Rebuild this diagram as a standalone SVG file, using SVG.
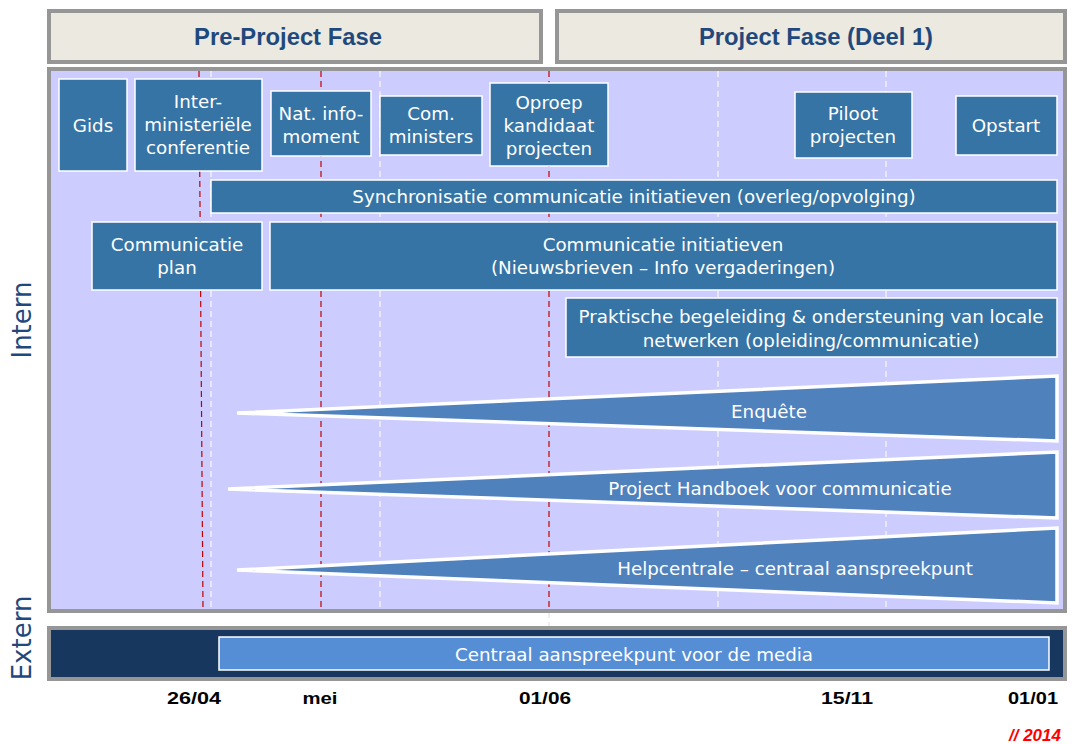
<svg xmlns="http://www.w3.org/2000/svg" width="1076" height="744" viewBox="0 0 1076 744">
<style>
.hdr{fill:#ECEAE0;stroke:#969696;stroke-width:4}
.hdrt{font-family:"Liberation Sans",Arial,sans-serif;font-weight:bold;font-size:23.8px;fill:#1F497D;text-anchor:middle}
.box{fill:#3574A5;stroke:#FFFFFF;stroke-width:1.5}
.t{font-family:"DejaVu Sans",Verdana,sans-serif;font-size:18.3px;fill:#FFFFFF;text-anchor:middle}
.wedge{fill:#4F81BD;stroke:#FFFFFF;stroke-width:3.5;stroke-linejoin:miter}
.red{stroke:#C00000;stroke-width:1.2;stroke-dasharray:6,4;fill:none}
.wht{stroke:#EFEFF7;stroke-width:1.5;stroke-dasharray:6,4;fill:none}
.date{font-family:"Liberation Sans",Arial,sans-serif;font-weight:bold;font-size:17px;fill:#000;text-anchor:middle}
.side{font-family:"DejaVu Sans",Verdana,sans-serif;font-size:26px;fill:#1F497D;text-anchor:middle}
</style>
<rect width="1076" height="744" fill="#FFFFFF"/>
<g id="header-pre"><rect class="hdr" x="49" y="11" width="492" height="51"/><text class="hdrt" x="288" y="45">Pre-Project Fase</text></g>
<g id="header-project"><rect class="hdr" x="557" y="11" width="508" height="51"/><text class="hdrt" x="816" y="45">Project Fase (Deel 1)</text></g>
<g id="panel-intern"><rect x="49" y="69" width="1016" height="542" fill="#CCCCFF" stroke="#969696" stroke-width="4"/></g>
<g id="gridlines">
<line class="wht" x1="211" y1="71" x2="211" y2="609"/>
<line class="wht" x1="380" y1="71" x2="380" y2="609"/>
<line class="wht" x1="718" y1="71" x2="718" y2="609"/>
<line class="wht" x1="886" y1="71" x2="886" y2="609"/>
<line class="red" x1="199" y1="71" x2="203" y2="609"/>
<line class="red" x1="321" y1="71" x2="321" y2="609"/>
<line class="red" x1="549" y1="71" x2="549" y2="609"/>
<line x1="549" y1="613" x2="549" y2="650" stroke="#DDDDDD" stroke-width="1" stroke-dasharray="5,4"/>
</g>
<text class="side" transform="translate(31,320) rotate(-90)">Intern</text>
<text class="side" transform="translate(31,638) rotate(-90)">Extern</text>
<g id="gids"><rect class="box" x="59" y="79" width="68" height="92"/><text class="t" x="93" y="132">Gids</text></g>
<g id="interministeriele"><rect class="box" x="135" y="79" width="127" height="92"/><text class="t" x="198" y="108">Inter-</text><text class="t" x="198" y="131">ministeriële</text><text class="t" x="198" y="154">conferentie</text></g>
<g id="nat-info"><rect class="box" x="271" y="91" width="100" height="65"/><text class="t" x="321" y="120">Nat. info-</text><text class="t" x="321" y="143">moment</text></g>
<g id="com-ministers"><rect class="box" x="380" y="96" width="102" height="59"/><text class="t" x="431" y="120">Com.</text><text class="t" x="431" y="143">ministers</text></g>
<g id="oproep"><rect class="box" x="490" y="83" width="118" height="83"/><text class="t" x="549" y="109">Oproep</text><text class="t" x="549" y="132">kandidaat</text><text class="t" x="549" y="155">projecten</text></g>
<g id="piloot"><rect class="box" x="795" y="92" width="117" height="66"/><text class="t" x="853" y="120">Piloot</text><text class="t" x="853" y="143">projecten</text></g>
<g id="opstart"><rect class="box" x="956" y="96" width="101" height="59"/><text class="t" x="1006" y="132">Opstart</text></g>
<g id="synchronisatie"><rect class="box" x="211" y="180" width="846" height="33"/><text class="t" x="634" y="203">Synchronisatie communicatie initiatieven (overleg/opvolging)</text></g>
<g id="communicatie-plan"><rect class="box" x="92" y="222" width="170" height="68"/><text class="t" x="177" y="251">Communicatie</text><text class="t" x="177" y="274">plan</text></g>
<g id="communicatie-initiatieven"><rect class="box" x="270" y="222" width="787" height="68"/><text class="t" x="663" y="251">Communicatie initiatieven</text><text class="t" x="663" y="274">(Nieuwsbrieven – Info vergaderingen)</text></g>
<g id="praktische"><rect class="box" x="566" y="298" width="491" height="59"/><text class="t" x="811" y="323">Praktische begeleiding &amp; ondersteuning van locale</text><text class="t" x="811" y="347">netwerken (opleiding/communicatie)</text></g>
<g id="enquete"><polygon class="wedge" points="237,413 1057,376 1057,441"/><text class="t" x="769" y="418">Enquête</text></g>
<g id="handboek"><polygon class="wedge" points="228,489 1057,452 1057,518"/><text class="t" x="780" y="495">Project Handboek voor communicatie</text></g>
<g id="helpcentrale"><polygon class="wedge" points="237,570 1057,528 1057,603"/><text class="t" x="795" y="575">Helpcentrale – centraal aanspreekpunt</text></g>
<g id="panel-extern"><rect x="49" y="628" width="1016" height="51" fill="#17375E" stroke="#969696" stroke-width="4"/></g>
<g id="media"><rect x="219" y="637" width="830" height="33" fill="#558ED5" stroke="#FFFFFF" stroke-width="1.5"/><text x="634" y="661" font-family="'DejaVu Sans Condensed','DejaVu Sans',sans-serif" font-size="18" fill="#FFFFFF" text-anchor="middle" textLength="358" lengthAdjust="spacingAndGlyphs">Centraal aanspreekpunt voor de media</text></g>
<g id="dates">
<text class="date" x="194" y="704" textLength="54" lengthAdjust="spacingAndGlyphs">26/04</text>
<text class="date" x="320" y="704" textLength="35" lengthAdjust="spacingAndGlyphs">mei</text>
<text class="date" x="545" y="704" textLength="52" lengthAdjust="spacingAndGlyphs">01/06</text>
<text class="date" x="847" y="704" textLength="52" lengthAdjust="spacingAndGlyphs">15/11</text>
<text class="date" x="1033" y="704" textLength="50" lengthAdjust="spacingAndGlyphs">01/01</text>
</g>
<text x="1061" y="741" font-family="'Liberation Sans',Arial,sans-serif" font-weight="bold" font-style="italic" font-size="17" fill="#FF0000" text-anchor="end" textLength="52" lengthAdjust="spacingAndGlyphs">// 2014</text>
</svg>
